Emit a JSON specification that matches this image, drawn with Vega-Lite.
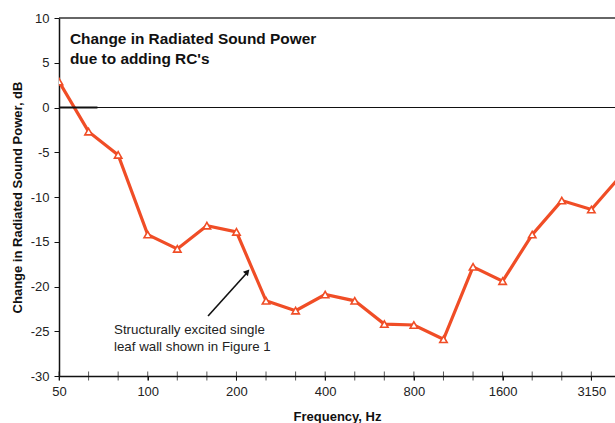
{
  "$schema": "https://vega.github.io/schema/vega-lite/v6.json",
  "width": 556,
  "height": 358,
  "autosize": {"type": "none"},
  "padding": {"left": 59, "top": 18, "right": 0, "bottom": 47},
  "background": "white",
  "config": {
    "view": {"stroke": null},
    "font": "Liberation Sans",
    "axis": {"grid": false, "domainColor": "#111", "tickColor": "#111", "labelColor": "#222", "labelFont": "Liberation Sans", "labelFontSize": 13, "titleFont": "Liberation Sans", "titleFontSize": 13, "titleFontWeight": "bold", "titleColor": "#111", "labelOverlap": false}
  },
  "datasets": {
    "spl": [
      {"band": 17, "freq": "50", "dB": 2.9},
      {"band": 18, "freq": "63", "dB": -2.7},
      {"band": 19, "freq": "80", "dB": -5.3},
      {"band": 20, "freq": "100", "dB": -14.2},
      {"band": 21, "freq": "125", "dB": -15.8},
      {"band": 22, "freq": "160", "dB": -13.2},
      {"band": 23, "freq": "200", "dB": -13.9},
      {"band": 24, "freq": "250", "dB": -21.6},
      {"band": 25, "freq": "315", "dB": -22.7},
      {"band": 26, "freq": "400", "dB": -20.9},
      {"band": 27, "freq": "500", "dB": -21.6},
      {"band": 28, "freq": "630", "dB": -24.2},
      {"band": 29, "freq": "800", "dB": -24.3},
      {"band": 30, "freq": "1000", "dB": -25.9},
      {"band": 31, "freq": "1250", "dB": -17.8},
      {"band": 32, "freq": "1600", "dB": -19.4},
      {"band": 33, "freq": "2000", "dB": -14.2},
      {"band": 34, "freq": "2500", "dB": -10.4},
      {"band": 35, "freq": "3150", "dB": -11.4},
      {"band": 36, "freq": "4000", "dB": -7.6}
    ]
  },
  "layer": [
    {
      "data": {"name": "spl"},
      "mark": {"type": "line", "color": "#f04d26", "strokeWidth": 3.2, "clip": true},
      "encoding": {
        "x": {
          "field": "band", "type": "quantitative",
          "scale": {"domain": [17, 35.8], "nice": false, "zero": false},
          "axis": {
            "title": "Frequency, Hz",
            "values": [17, 20, 23, 26, 29, 32, 35],
            "labelExpr": "datum.value == 17 ? '50' : datum.value == 20 ? '100' : datum.value == 23 ? '200' : datum.value == 26 ? '400' : datum.value == 29 ? '800' : datum.value == 32 ? '1600' : '3150'",
            "tickSize": 4, "labelPadding": 5, "domainWidth": 1.5, "tickWidth": 1, "titlePadding": 12, "labelFlush": false, "labelOverlap": false, "labelBound": false
          }
        },
        "y": {
          "field": "dB", "type": "quantitative",
          "scale": {"domain": [-30, 10], "nice": false},
          "axis": {
            "title": "Change in Radiated Sound Power, dB",
            "values": [-30, -25, -20, -15, -10, -5, 0, 5, 10],
            "labelExpr": "'' + datum.value",
            "tickSize": 5, "labelPadding": 5, "domainWidth": 1.5, "titlePadding": 6, "labelOverlap": false
          }
        }
      }
    },
    {
      "data": {"name": "spl"},
      "mark": {"type": "tick", "orient": "vertical", "color": "#111", "size": 9, "thickness": 1},
      "encoding": {
        "x": {"field": "band", "type": "quantitative"},
        "y": {"datum": -30}
      }
    },
    {
      "data": {"values": [{"y": 0}]},
      "mark": {"type": "rule", "color": "#111", "strokeWidth": 1.2},
      "encoding": {"y": {"field": "y", "type": "quantitative"}}
    },
    {
      "data": {"values": [{"y": 10}]},
      "mark": {"type": "rule", "color": "#333", "strokeWidth": 1.5},
      "encoding": {"y": {"field": "y", "type": "quantitative"}}
    },
    {
      "data": {"values": [{"x": 17, "x2": 18.3, "y": 0}]},
      "mark": {"type": "rule", "color": "#111", "strokeWidth": 2},
      "encoding": {
        "x": {"field": "x", "type": "quantitative"},
        "x2": {"field": "x2"},
        "y": {"field": "y", "type": "quantitative"}
      }
    },
    {
      "data": {"name": "spl"},
      "mark": {"type": "point", "shape": "triangle-up", "filled": false, "fill": "white", "fillOpacity": 1, "stroke": "#f04d26", "strokeWidth": 1.6, "size": 55, "opacity": 1, "clip": true},
      "encoding": {
        "x": {"field": "band", "type": "quantitative"},
        "y": {"field": "dB", "type": "quantitative"}
      }
    },
    {
      "data": {"values": [{"x": 22.04, "y": -23.3, "x2": 23.32, "y2": -18.6}]},
      "mark": {"type": "rule", "color": "#111", "strokeWidth": 1.6},
      "encoding": {
        "x": {"field": "x", "type": "quantitative"},
        "y": {"field": "y", "type": "quantitative"},
        "x2": {"field": "x2"},
        "y2": {"field": "y2"}
      }
    },
    {
      "data": {"values": [{"x": 23.37, "y": -18.35}]},
      "mark": {"type": "point", "shape": "triangle-up", "filled": true, "color": "#111", "size": 45, "angle": 42, "opacity": 1},
      "encoding": {
        "x": {"field": "x", "type": "quantitative"},
        "y": {"field": "y", "type": "quantitative"}
      }
    },
    {
      "data": {"values": [
        {"x": 17.37, "y": 7.09, "t": "Change in Radiated Sound Power"},
        {"x": 17.37, "y": 4.86, "t": "due to adding RC's"}
      ]},
      "mark": {"type": "text", "align": "left", "baseline": "alphabetic", "fontSize": 15.4, "fontWeight": "bold", "color": "#111", "font": "Liberation Sans"},
      "encoding": {
        "x": {"field": "x", "type": "quantitative"},
        "y": {"field": "y", "type": "quantitative"},
        "text": {"field": "t"}
      }
    },
    {
      "data": {"values": [
        {"x": 18.86, "y": -25.31, "t": "Structurally excited single"},
        {"x": 18.86, "y": -27.21, "t": "leaf wall shown in Figure 1"}
      ]},
      "mark": {"type": "text", "align": "left", "baseline": "alphabetic", "fontSize": 13.3, "color": "#222", "font": "Liberation Sans"},
      "encoding": {
        "x": {"field": "x", "type": "quantitative"},
        "y": {"field": "y", "type": "quantitative"},
        "text": {"field": "t"}
      }
    }
  ]
}
